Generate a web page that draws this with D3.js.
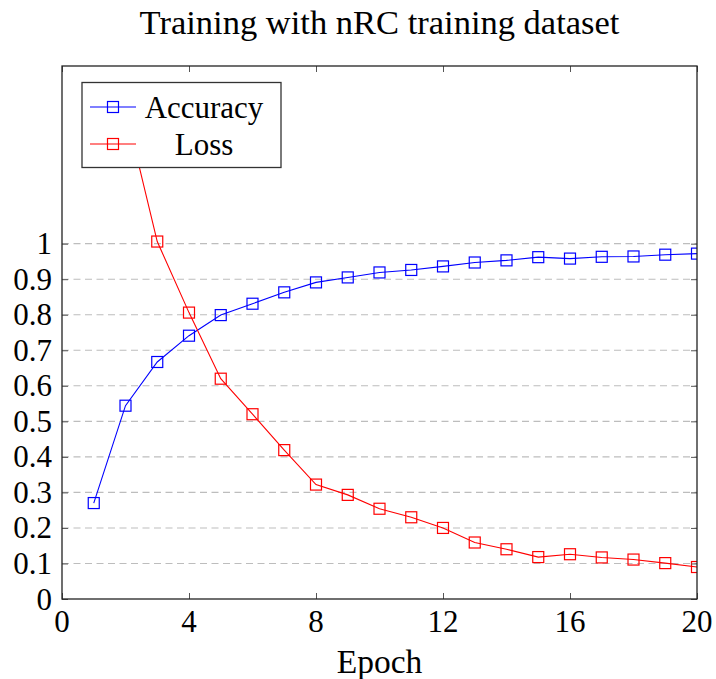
<!DOCTYPE html>
<html>
<head>
<meta charset="utf-8">
<script src="https://cdn.jsdelivr.net/npm/d3@7"></script>
<style>
  html, body { margin: 0; padding: 0; background: #fff; }
  svg { display: block; }
  text { font-family: "Liberation Serif", "DejaVu Serif", serif; fill: #000; }
</style>
</head>
<body>
<svg id="chart" width="716" height="679"></svg>
<script>
// Training curves per epoch
const epochs = [1, 2, 3, 4, 5, 6, 7, 8, 9, 10, 11, 12, 13, 14, 15, 16, 17, 18, 19, 20];
const accuracy = [0.27, 0.544, 0.667, 0.741, 0.799, 0.831, 0.863, 0.891, 0.905, 0.919, 0.926, 0.936, 0.947, 0.953, 0.962, 0.958, 0.963, 0.964, 0.969, 0.972];
const loss = [1.41, 1.377, 1.006, 0.806, 0.62, 0.52, 0.419, 0.322, 0.293, 0.254, 0.23, 0.2, 0.159, 0.14, 0.118, 0.126, 0.117, 0.111, 0.101, 0.09];

const xTicks = [0, 4, 8, 12, 16, 20];
const yTicks = [0, 0.1, 0.2, 0.3, 0.4, 0.5, 0.6, 0.7, 0.8, 0.9, 1];
const yTickLabels = ["0", "0.1", "0.2", "0.3", "0.4", "0.5", "0.6", "0.7", "0.8", "0.9", "1"];

const seriesNames = ["Accuracy", "Loss"];
const seriesColors = ["#0000ff", "#ff0000"];

const svg = d3.select("#chart");
const pLeft = 62, pRight = 697, pTop = 66, pBottom = 599;

const x = d3.scaleLinear().domain([0, 20]).range([pLeft, pRight]);
const y = d3.scaleLinear().domain([0, 1.5]).range([pBottom, pTop]);

// dashed horizontal grid
svg.append("g")
  .selectAll("line")
  .data(yTicks.filter(d => d > 0))
  .join("line")
  .attr("x1", pLeft).attr("x2", pRight)
  .attr("y1", d => y(d)).attr("y2", d => y(d))
  .attr("stroke", "#bdbdbd")
  .attr("stroke-width", 1.1)
  .attr("stroke-dasharray", "7,4.5");

// clip region for the plotted series
svg.append("clipPath").attr("id", "plotClip")
  .append("rect")
  .attr("x", pLeft).attr("y", pTop)
  .attr("width", pRight - pLeft).attr("height", pBottom - pTop);

const plot = svg.append("g").attr("clip-path", "url(#plotClip)");
const series = [accuracy, loss];

const line = d3.line()
  .x((d, i) => x(epochs[i]))
  .y(d => y(d));

const msize = 11;
series.forEach((vals, k) => {
  plot.append("path")
    .datum(vals)
    .attr("d", line)
    .attr("fill", "none")
    .attr("stroke", seriesColors[k])
    .attr("stroke-width", 1.1);
  plot.append("g")
    .selectAll("rect")
    .data(vals)
    .join("rect")
    .attr("x", (d, i) => x(epochs[i]) - msize / 2)
    .attr("y", d => y(d) - msize / 2)
    .attr("width", msize).attr("height", msize)
    .attr("fill", "none")
    .attr("stroke", seriesColors[k])
    .attr("stroke-width", 1.2);
});

// axes with inward ticks on all four sides
const tickLen = 6;
const axisG = svg.append("g");
const xb = d3.axisBottom(x).tickValues(xTicks).tickSize(-tickLen).tickFormat("").tickSizeOuter(0);
const xt = d3.axisTop(x).tickValues(xTicks).tickSize(-tickLen).tickFormat("").tickSizeOuter(0);
const yl = d3.axisLeft(y).tickValues(yTicks).tickSize(-tickLen).tickFormat("").tickSizeOuter(0);
const yr = d3.axisRight(y).tickValues(yTicks).tickSize(-tickLen).tickFormat("").tickSizeOuter(0);
axisG.append("g").attr("transform", `translate(0,${pBottom})`).call(xb);
axisG.append("g").attr("transform", `translate(0,${pTop})`).call(xt);
axisG.append("g").attr("transform", `translate(${pLeft},0)`).call(yl);
axisG.append("g").attr("transform", `translate(${pRight},0)`).call(yr);
axisG.selectAll(".domain").remove();
axisG.selectAll(".tick line").attr("stroke", "#555").attr("stroke-width", 1);

// frame
svg.append("rect")
  .attr("x", pLeft).attr("y", pTop)
  .attr("width", pRight - pLeft).attr("height", pBottom - pTop)
  .attr("fill", "none").attr("stroke", "#222").attr("stroke-width", 1.3);

// tick labels
svg.append("g")
  .selectAll("text")
  .data(xTicks)
  .join("text")
  .attr("x", d => x(d)).attr("y", 632)
  .attr("text-anchor", "middle")
  .attr("font-size", 31)
  .text(d => d);

svg.append("g")
  .selectAll("text")
  .data(yTicks)
  .join("text")
  .attr("x", 52).attr("y", d => y(d))
  .attr("dy", "0.34em")
  .attr("text-anchor", "end")
  .attr("font-size", 31)
  .text((d, i) => yTickLabels[i]);

// axis label and title
svg.append("text")
  .attr("x", (pLeft + pRight) / 2).attr("y", 673)
  .attr("text-anchor", "middle")
  .attr("font-size", 33.5)
  .text("Epoch");

svg.append("text")
  .attr("x", (pLeft + pRight) / 2).attr("y", 34)
  .attr("text-anchor", "middle")
  .attr("font-size", 34.5)
  .text("Training with nRC training dataset");

// legend
const lg = svg.append("g");
lg.append("rect")
  .attr("x", 82).attr("y", 82.5)
  .attr("width", 199).attr("height", 85)
  .attr("fill", "#fff").attr("stroke", "#333").attr("stroke-width", 1.3);
const rowY = [107, 144];
seriesNames.forEach((name, k) => {
  lg.append("line")
    .attr("x1", 90).attr("x2", 136)
    .attr("y1", rowY[k]).attr("y2", rowY[k])
    .attr("stroke", seriesColors[k]).attr("stroke-width", 1.1);
  lg.append("rect")
    .attr("x", 113 - msize / 2).attr("y", rowY[k] - msize / 2)
    .attr("width", msize).attr("height", msize)
    .attr("fill", "none").attr("stroke", seriesColors[k]).attr("stroke-width", 1.2);
  lg.append("text")
    .attr("x", 204).attr("y", rowY[k])
    .attr("dy", "0.34em")
    .attr("text-anchor", "middle")
    .attr("font-size", 31)
    .text(name);
});
</script>
</body>
</html>
